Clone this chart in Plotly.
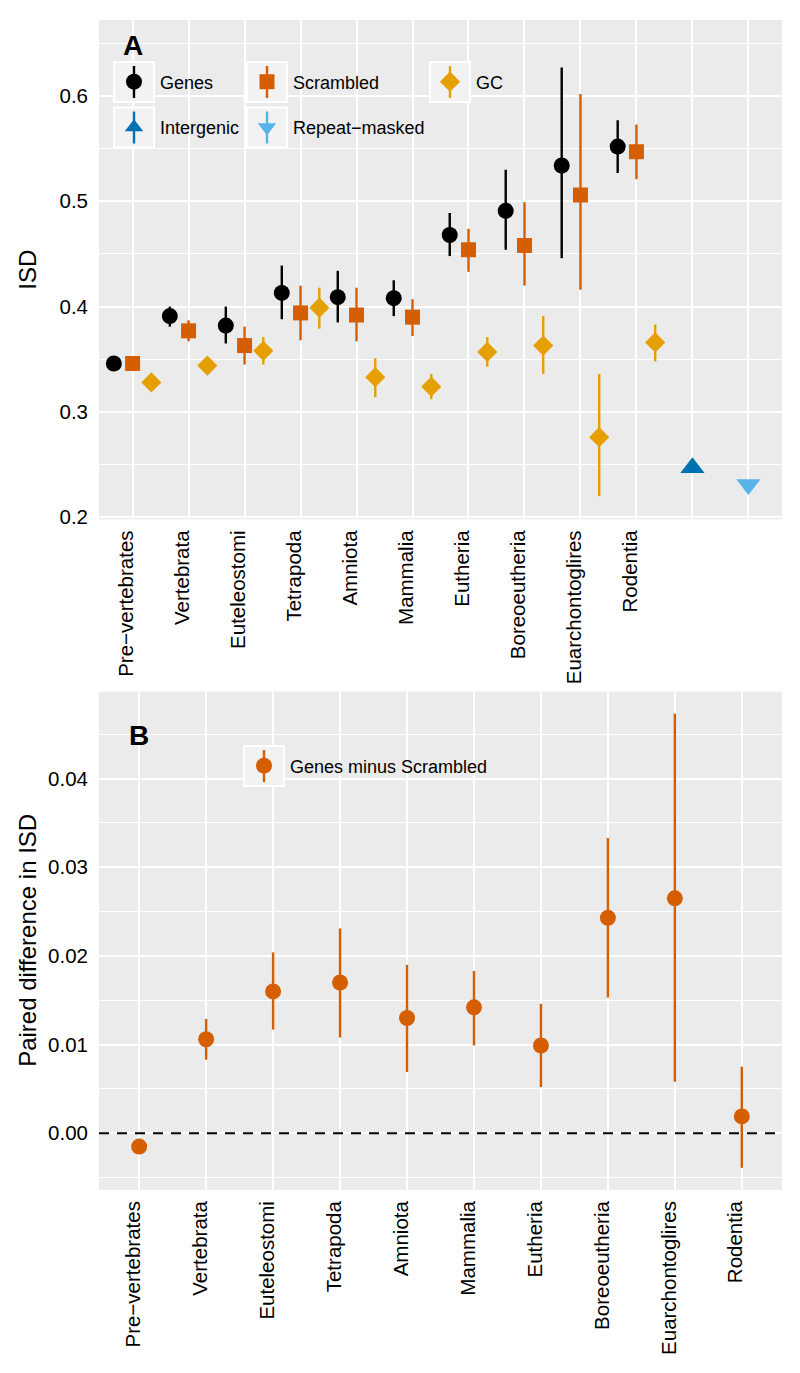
import numpy as np
import plotly.graph_objects as go

# ---------------- data ----------------
clades = ["Pre\u2212vertebrates", "Vertebrata", "Euteleostomi", "Tetrapoda", "Amniota",
          "Mammalia", "Eutheria", "Boreoeutheria", "Euarchontoglires", "Rodentia"]

genes = [0.346, 0.391, 0.382, 0.413, 0.409, 0.408, 0.468, 0.491, 0.534, 0.552]
genes_lo = [0.344, 0.381, 0.365, 0.388, 0.385, 0.391, 0.448, 0.454, 0.446, 0.527]
genes_hi = [0.348, 0.400, 0.400, 0.439, 0.434, 0.425, 0.489, 0.530, 0.627, 0.577]

scrambled = [0.346, 0.377, 0.363, 0.394, 0.392, 0.390, 0.454, 0.458, 0.506, 0.547]
scrambled_lo = [0.344, 0.367, 0.345, 0.368, 0.367, 0.372, 0.433, 0.420, 0.416, 0.521]
scrambled_hi = [0.348, 0.387, 0.381, 0.420, 0.418, 0.407, 0.474, 0.499, 0.602, 0.573]

gc = [0.328, 0.344, 0.358, 0.399, 0.333, 0.324, 0.357, 0.363, 0.276, 0.366]
gc_lo = [0.326, 0.342, 0.345, 0.379, 0.314, 0.312, 0.343, 0.336, 0.220, 0.348]
gc_hi = [0.330, 0.346, 0.371, 0.418, 0.351, 0.336, 0.371, 0.391, 0.336, 0.383]

intergenic = [0.247]
repeat_masked = [0.231]

diff = [-0.0015, 0.0106, 0.0160, 0.0170, 0.0130, 0.0142, 0.0099, 0.0243, 0.0265, 0.0019]
diff_lo = [-0.0017, 0.0083, 0.0117, 0.0108, 0.0069, 0.0099, 0.0052, 0.0153, 0.0058, -0.0039]
diff_hi = [-0.0013, 0.0129, 0.0204, 0.0231, 0.0190, 0.0183, 0.0146, 0.0333, 0.0473, 0.0075]

# ---------------- styling ----------------
W, H = 800, 1373
FONT = "Liberation Sans, Arial, Helvetica, sans-serif"
C_GENES = "#000000"
C_SCR = "#D55E00"
C_GC = "#E69F00"
C_INT = "#0072B2"
C_REP = "#56B4E9"
PANEL = "#EBEBEB"
DODGE = 0.335
EW = 2.4


def px_x(x):
    return x / W


def px_y(y):
    return 1 - y / H


n = len(clades)
idx = np.arange(n)


def errs(v, lo, hi):
    v = np.array(v); lo = np.array(lo); hi = np.array(hi)
    return dict(type="data", array=hi - v, arrayminus=v - lo, symmetric=False, width=0, thickness=EW)


fig = go.Figure()

fig.add_trace(go.Scatter(x=idx - DODGE, y=genes, mode="markers", name="Genes",
                         marker=dict(symbol="circle", size=16, color=C_GENES),
                         error_y=dict(errs(genes, genes_lo, genes_hi), color=C_GENES),
                         xaxis="x", yaxis="y", legend="legend"))
fig.add_trace(go.Scatter(x=idx, y=scrambled, mode="markers", name="Scrambled",
                         marker=dict(symbol="square", size=15, color=C_SCR),
                         error_y=dict(errs(scrambled, scrambled_lo, scrambled_hi), color=C_SCR),
                         xaxis="x", yaxis="y", legend="legend2"))
fig.add_trace(go.Scatter(x=idx + DODGE, y=gc, mode="markers", name="GC",
                         marker=dict(symbol="diamond", size=15.5, color=C_GC),
                         error_y=dict(errs(gc, gc_lo, gc_hi), color=C_GC),
                         xaxis="x", yaxis="y", legend="legend3"))
fig.add_trace(go.Scatter(x=[n], y=intergenic, mode="markers", name="Intergenic",
                         marker=dict(symbol="triangle-up", size=21, color=C_INT),
                         xaxis="x", yaxis="y", legend="legend4"))
fig.add_trace(go.Scatter(x=[n + 1], y=repeat_masked, mode="markers", name="Repeat\u2212masked",
                         marker=dict(symbol="triangle-down", size=21, color=C_REP),
                         xaxis="x", yaxis="y", legend="legend5"))

fig.add_trace(go.Scatter(x=idx, y=diff, mode="markers", name="Genes minus Scrambled",
                         marker=dict(symbol="circle", size=16, color=C_SCR),
                         error_y=dict(errs(diff, diff_lo, diff_hi), color=C_SCR),
                         xaxis="x2", yaxis="y2", legend="legend6"))

# ---------------- axes ----------------
xdom = [px_x(99), px_x(782)]
ydomA = [px_y(519.3), px_y(20)]
ydomB = [px_y(1190), px_y(691.7)]

tick_font = dict(family=FONT, size=20.5, color="#000000")
common_x = dict(showgrid=True, gridcolor="white", gridwidth=2.2, zeroline=False, showline=False,
                ticks="", tickangle=-90, tickfont=tick_font, automargin=False,
                ticklabelshift=-6, ticklabelstandoff=6)
common_y = dict(showgrid=True, gridcolor="white", gridwidth=2.2, zeroline=False, showline=False,
                ticks="", tickfont=tick_font, automargin=False, ticklabelstandoff=10)

ticktextA = clades + ["", ""]
fig.update_layout(
    xaxis=dict(common_x, domain=xdom, anchor="y", range=[-0.6, n + 1.6],
               tickmode="array", tickvals=list(range(n + 2)), ticktext=ticktextA),
    yaxis=dict(common_y, domain=ydomA, anchor="x", range=[0.1980, 0.6722],
               tickmode="array", tickvals=[0.2, 0.3, 0.4, 0.5, 0.6],
               ticktext=["0.2", "0.3", "0.4", "0.5", "0.6"],
               minor=dict(tickmode="array", tickvals=[0.25, 0.35, 0.45, 0.55, 0.65],
                          showgrid=True, gridcolor="white", gridwidth=1.1)),
    xaxis2=dict(common_x, domain=xdom, anchor="y2", range=[-0.6, n - 0.4],
                tickmode="array", tickvals=list(range(n)), ticktext=clades),
    yaxis2=dict(common_y, domain=ydomB, anchor="x2", range=[-0.0064, 0.0498],
                tickmode="array", tickvals=[0.0, 0.01, 0.02, 0.03, 0.04],
                ticktext=["0.00", "0.01", "0.02", "0.03", "0.04"],
                minor=dict(tickmode="array", tickvals=[-0.005, 0.005, 0.015, 0.025, 0.035, 0.045],
                           showgrid=True, gridcolor="white", gridwidth=1.1)),
)

# ---------------- legends ----------------
leg_common = dict(bgcolor="rgba(0,0,0,0)", borderwidth=0, itemwidth=42,
                  font=dict(family=FONT, size=18, color="#000000"),
                  xanchor="left", yanchor="middle", orientation="v")
key_centers = {
    "legend": (134, 82), "legend2": (267, 82), "legend3": (450, 82),
    "legend4": (134, 127.5), "legend5": (267, 127.5), "legend6": (264, 766),
}
for name, (cx, cy) in key_centers.items():
    fig.update_layout({name: dict(leg_common, x=px_x(cx - 26), y=px_y(cy))})

# legend key boxes and key error-bar strokes
key_colors = {"legend": C_GENES, "legend2": C_SCR, "legend3": C_GC,
              "legend4": C_INT, "legend5": C_REP, "legend6": C_SCR}
shapes = []
for name, (cx, cy) in key_centers.items():
    shapes.append(dict(type="rect", xref="paper", yref="paper",
                       x0=px_x(cx - 20), x1=px_x(cx + 20), y0=px_y(cy + 20), y1=px_y(cy - 20),
                       fillcolor="#F2F2F2", line=dict(color="white", width=2), layer="above"))
    shapes.append(dict(type="line", xref="paper", yref="paper",
                       x0=px_x(cx), x1=px_x(cx), y0=px_y(cy + 16), y1=px_y(cy - 16),
                       line=dict(color=key_colors[name], width=EW), layer="above"))

# dashed zero line in panel B
shapes.append(dict(type="line", xref="x2 domain", yref="y2", x0=0, x1=1, y0=0, y1=0,
                   line=dict(color="black", width=2, dash="10px,8px"), layer="above"))

fig.update_layout(shapes=shapes)

# ---------------- annotations ----------------
annotations = [
    dict(text="<b>A</b>", x=0, y=0.648, xref="x", yref="y", showarrow=False,
         font=dict(family=FONT, size=28, color="black"), xanchor="center", yanchor="middle"),
    dict(text="<b>B</b>", x=0, y=0.0449, xref="x2", yref="y2", showarrow=False,
         font=dict(family=FONT, size=28, color="black"), xanchor="center", yanchor="middle"),
    dict(text="ISD", x=px_x(28), y=(ydomA[0] + ydomA[1]) / 2, xref="paper", yref="paper",
         showarrow=False, textangle=-90, font=dict(family=FONT, size=24, color="black"),
         xanchor="center", yanchor="middle"),
    dict(text="Paired difference in ISD", x=px_x(28), y=(ydomB[0] + ydomB[1]) / 2,
         xref="paper", yref="paper", showarrow=False, textangle=-90,
         font=dict(family=FONT, size=24, color="black"), xanchor="center", yanchor="middle"),
]

fig.update_layout(
    width=W, height=H,
    margin=dict(l=0, r=0, t=0, b=0, autoexpand=False),
    paper_bgcolor="white", plot_bgcolor=PANEL,
    font=dict(family=FONT, color="black"),
    showlegend=True,
    annotations=annotations,
)

fig.write_html("out.html", config={"displayModeBar": False},
               post_script="document.body.style.margin='0px';")
